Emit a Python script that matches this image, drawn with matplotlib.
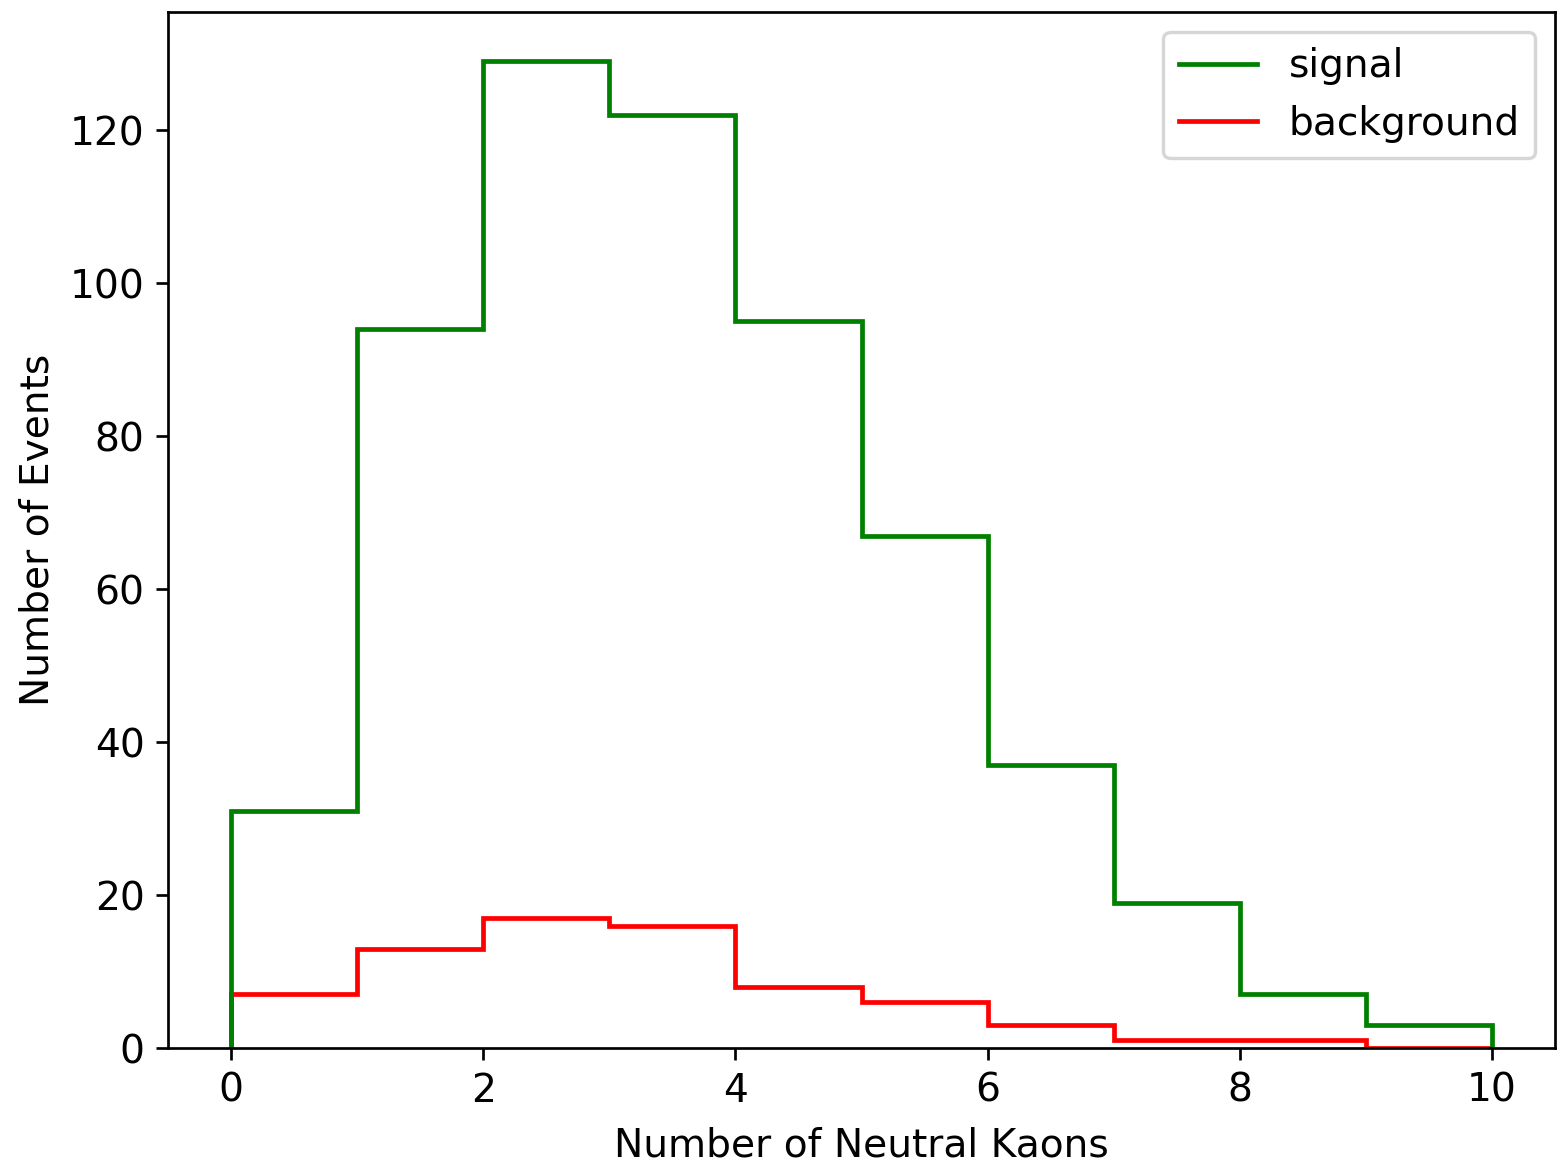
import matplotlib
matplotlib.use('Agg')
import matplotlib.pyplot as plt
from matplotlib.lines import Line2D
import numpy as np

# bin edges and counts per bin
edges = np.arange(0, 11)
signal = [31, 94, 129, 122, 95, 67, 37, 19, 7, 3]
background = [7, 13, 17, 16, 8, 6, 3, 1, 1, 0]

plt.rcParams['font.size'] = 11.6

fig = plt.figure(figsize=(1557/243, 1165/243), dpi=243)
ax = fig.add_axes([0.108, 0.1004, 0.8907, 0.8893])

ax.stairs(background, edges, baseline=0, color='red', linewidth=1.4)
ax.stairs(signal, edges, baseline=0, color='green', linewidth=1.4)

ax.set_xlabel('Number of Neutral Kaons', labelpad=5)
ax.set_ylabel('Number of Events')

handles = [Line2D([], [], color='green', linewidth=1.4),
           Line2D([], [], color='red', linewidth=1.4)]
ax.legend(handles, ['signal', 'background'], loc='upper right')

fig.savefig('out.png', dpi=243)
